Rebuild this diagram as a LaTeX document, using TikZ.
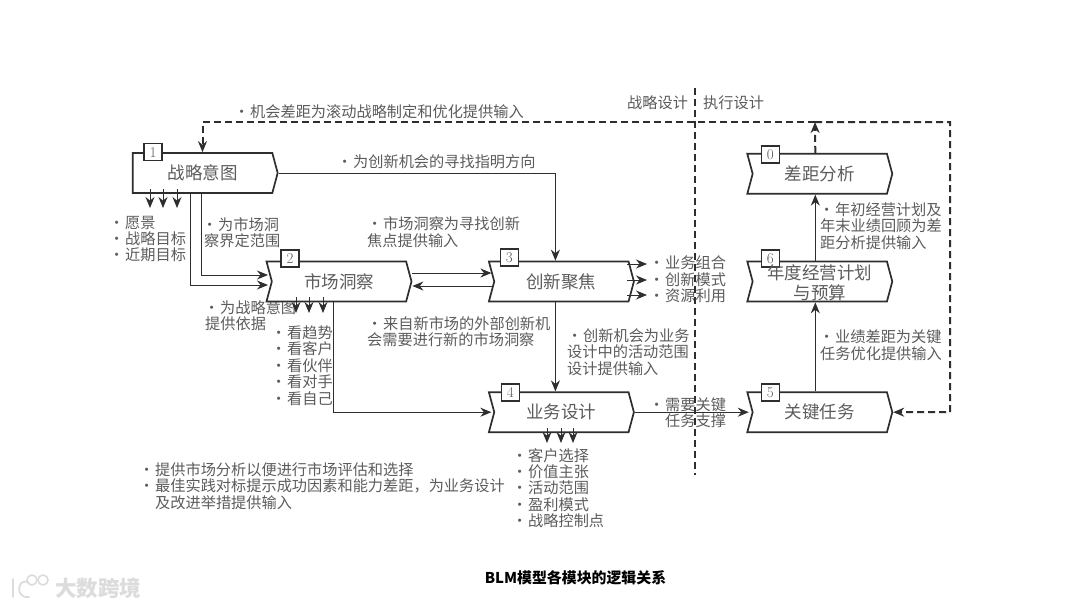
\documentclass[tikz,border=0pt]{standalone}
\usepackage{fontspec}
\usepackage{tikz}
\usetikzlibrary{shapes.symbols, arrows.meta, positioning, calc}
\newfontfamily\cjk{Noto Sans CJK SC}
\definecolor{blmink}{HTML}{2e2e2e}
\definecolor{blmtext}{HTML}{5c5c5c}
\definecolor{blmmark}{HTML}{dcdcdc}
\newcommand{\blmdot}{\makebox[10pt][l]{\kern-6pt·}}

\begin{document}
\begin{tikzpicture}[
    x=1pt, y=-1pt,
    block/.style={signal, signal to=east, signal from=west, signal pointer angle=150, draw=blmink, fill=white, line width=1.7pt, minimum width=145pt, minimum height=40pt, inner sep=0pt, align=center, text=blmtext, font=\cjk\fontsize{17.5}{19}\selectfont},
    numbox/.style={rectangle, draw=blmink, fill=white, line width=1.5pt, minimum width=18pt, minimum height=17pt, inner sep=0pt, text=blmtext, font=\fontsize{15}{15}\selectfont},
    note/.style={anchor=west, align=left, inner sep=0pt, text=blmtext, font=\cjk\fontsize{15.2}{16.4}\selectfont},
    arrow/.style={-{Stealth[length=11pt, width=9pt]}, line width=1pt, draw=blmink},
    stub/.style={arrow, shorten <=-5pt},
    dashline/.style={line width=2pt, draw=blmink, dash pattern=on 7pt off 4pt},
    dasharrow/.style={dashline, -{Stealth[length=11pt, width=9pt]}}
]
\useasboundingbox[fill=white] (0,0) rectangle (1080,608);

\node[note] (vision) at (115,239) {\blmdot 愿景\\\blmdot 战略目标\\\blmdot 近期目标};
\node[note] (scope) at (204,232.5) {\hspace*{4pt}\blmdot 为市场洞\\察界定范围};
\node[note] (basis) at (205,315.5) {\hspace*{5pt}\blmdot 为战略意图\\提供依据};
\node[note] (looks) at (277,365.5) {\blmdot 看趋势\\\blmdot 看客户\\\blmdot 看伙伴\\\blmdot 看对手\\\blmdot 看自己};
\node[note] (insight) at (367,232) {\hspace*{6pt}\blmdot 市场洞察为寻找创新\\焦点提供输入};
\node[note] (external) at (367,331.5) {\hspace*{6pt}\blmdot 来自新市场的外部创新机\\会需要进行新的市场洞察};
\node[note] (direction) at (343,162) {\blmdot 为创新机会的寻找指明方向};
\node[note] (opportunity) at (240,112) {\blmdot 机会差距为滚动战略制定和优化提供输入};
\node[note] (chance) at (567,352) {\hspace*{6pt}\blmdot 创新机会为业务\\设计中的活动范围\\设计提供输入};
\node[note] (portfolio) at (655,279.5) {\blmdot 业务组合\\\blmdot 创新模式\\\blmdot 资源利用};
\node[note] (support) at (655,412.5) {\blmdot 需要关键\\\hspace*{10pt}任务支撑};
\node[note] (strategy) at (627,103) {战略设计};
\node[note] (execution) at (703,103) {执行设计};
\node[note] (annual) at (820,226) {\hspace*{5pt}\blmdot 年初经营计划及\\年末业绩回顾为差\\距分析提供输入};
\node[note] (perf) at (820,345) {\hspace*{5pt}\blmdot 业绩差距为关键\\任务优化提供输入};
\node[note] (benchmark) at (145,486) {\blmdot 提供市场分析以便进行市场评估和选择\\\blmdot 最佳实践对标提示成功因素和能力差距，为业务设计\\\hspace*{10pt}及改进举措提供输入};
\node[note] (outputs) at (518,488) {\blmdot 客户选择\\\blmdot 价值主张\\\blmdot 活动范围\\\blmdot 盈利模式\\\blmdot 战略控制点};

\coordinate (divtop) at (695,88);
\coordinate (divbot) at (695,475);
\draw[dashline] (divtop) -- (divbot);

\node[block, signal from=nowhere] (intent) at (202.5,173) {战略意图};
\node[block] (market) at (339,281.5) {市场洞察};
\node[block, right=81pt of market] (focus) {创新聚焦};
\node[block, below=89pt of focus] (design) {业务设计};
\node[block, right=117pt of design] (task) {关键任务};
\node[block, above=89pt of task] (budget) {};
\node[block, above=66pt of budget] (gap) {差距分析};

\node[numbox] (n1) at ([xshift=-49.5pt]intent.north) {1};
\node[numbox] (n2) at ([xshift=-49pt, yshift=2pt]market.north) {2};
\node[numbox] (n3) at ([xshift=-52pt, yshift=3pt]focus.north) {3};
\node[numbox] (n4) at ([xshift=-51pt, yshift=-1pt]design.north) {4};
\node[numbox] (n5) at ([xshift=-49.5pt, yshift=-1pt]task.north) {5};
\node[numbox] (n6) at ([xshift=-49.5pt, yshift=2pt]budget.north) {6};
\node[numbox] (n0) at ([xshift=-49.5pt, yshift=-1.5pt]gap.north) {0};
\node[align=center, inner sep=0pt, text=blmtext, font=\cjk\fontsize{17.5}{19.5}\selectfont] (budgettext) at ([yshift=-1.5pt]budget.center) {年度经营计划\\与预算};

\foreach \n/\x in {a/150,b/163,c/177}{
    \coordinate (vision\n) at (\x,208);
    \draw[stub] (intent.south -| vision\n) -- (vision\n);
}
\foreach \n/\x in {a/296,b/309,c/323}{
    \coordinate (looks\n) at (\x,313);
    \draw[stub] (market.south -| looks\n) -- (looks\n);
}
\foreach \n/\y in {a/264,b/280,c/295}{
    \coordinate (portfolio\n) at (647,\y);
    \draw[arrow] (627,\y) -- (portfolio\n);
}
\foreach \n/\x in {a/547,b/561,c/573}{
    \coordinate (outputs\n) at (\x,443);
    \draw[stub] (design.south -| outputs\n) -- (outputs\n);
}

\draw[arrow] (intent.east) -| ([xshift=-6pt]focus.north);
\draw[arrow] ([xshift=-1.5pt]intent.south) |- ([xshift=-3pt, yshift=6.5pt]market.west);
\draw[arrow] ([xshift=-12.5pt]intent.south) |- ([xshift=-3pt, yshift=-3.5pt]market.west);
\draw[arrow] ([yshift=8.5pt]market.east) -- ([xshift=-2pt, yshift=8.5pt]focus.west);
\draw[arrow] ([yshift=-4.5pt]focus.west) -- ([yshift=-4.5pt]market.east);
\draw[arrow] ([xshift=-6pt]market.south) |- ([xshift=-2pt]design.west);
\draw[arrow] ([xshift=-6pt]focus.south) -- ([xshift=-6pt]design.north);
\draw[arrow] (design.east) -- ([xshift=-3pt]task.west);
\draw[arrow] ([xshift=-4.5pt]task.north) -- ([xshift=-4.5pt]budget.south);
\draw[arrow] ([xshift=-4.5pt]budget.north) -- ([xshift=-4.5pt]gap.south);

\coordinate (loopne) at (950,122);
\coordinate (loopse) at (950,412);
\coordinate (gaptop) at (815,122);
\coordinate (loopnw) at (202.5,122);
\draw[dasharrow] ([xshift=-4.5pt]gap.north) -- (gaptop);
\draw[dasharrow] (gaptop) -- (loopne) -- (loopse) -- (task.east);
\draw[dasharrow] (gaptop) -- (loopnw) -- (intent.north);

\node[inner sep=0pt, text=black, font=\cjk\bfseries\fontsize{14.9}{16}\selectfont] (caption) at (575.5,578) {BLM模型各模块的逻辑关系};
\node[anchor=west, inner sep=0pt, text=blmmark, font=\cjk\bfseries\fontsize{21.5}{23}\selectfont] (brand) at (55,588) {大数跨境};
\draw[blmmark, line width=1.8pt, line cap=round] (13,579) -- (13,597);
\draw[blmmark, line width=1.8pt, line cap=round] (28,582) .. controls (17,578) and (15,599) .. (29,597);
\draw[blmmark, line width=1.6pt] (32,580) circle (5);
\draw[blmmark, line width=1.6pt] (43,580) circle (5);
\end{tikzpicture}
\end{document}
